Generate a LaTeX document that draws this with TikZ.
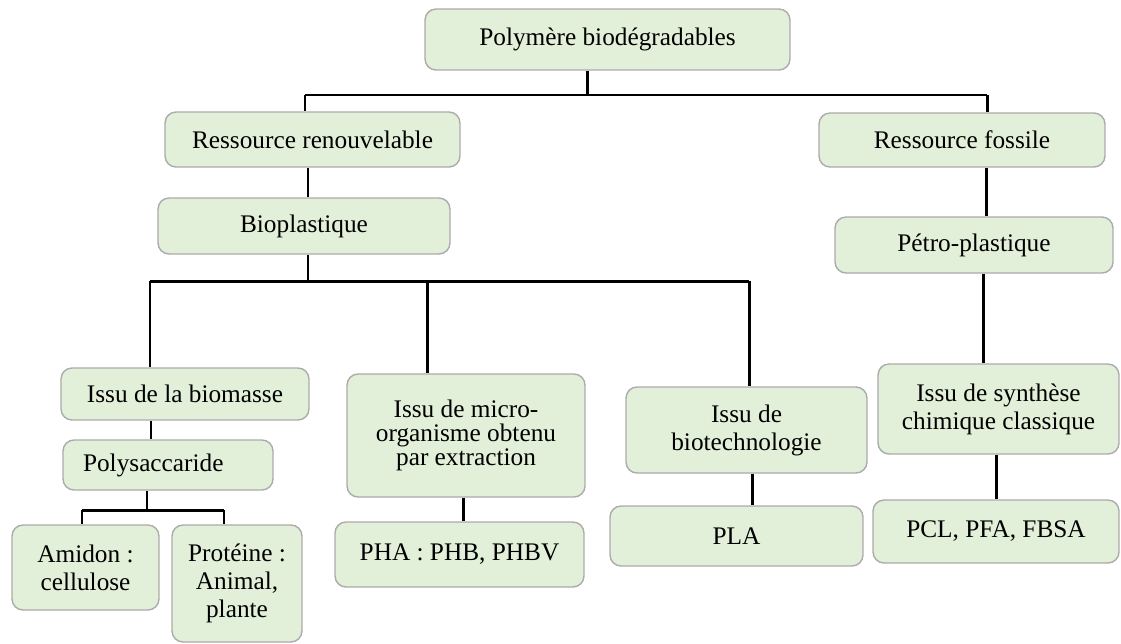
\documentclass[tikz,border=0pt]{standalone}
\usepackage{fontspec}
\setmainfont{Liberation Serif}
\definecolor{boxgreen}{HTML}{E2EFD9}
\definecolor{boxline}{HTML}{ABABAB}
\begin{document}
\begin{tikzpicture}[x=0.02cm,y=-0.02cm,line join=round,
		blk/.style={draw=boxline,line width=0.8pt,fill=boxgreen,rounded corners=0.22cm,
			align=center,inner sep=0pt,font=\fontsize{14.4}{16}\selectfont},
		wire/.style={line width=1.7pt,black}]
			\useasboundingbox (0,0) rectangle (1121,643);
			% boxes
			\node[blk,minimum width=7.30cm,minimum height=1.22cm] (poly) at (607.5,39.5) {Polymère biodégradables};
			\node[blk,minimum width=5.90cm,minimum height=1.10cm] (renouv) at (312.5,139.5) {Ressource renouvelable};
			\node[blk,minimum width=5.72cm,minimum height=1.08cm] (fossile) at (962,140) {Ressource fossile};
			\node[blk,minimum width=5.84cm,minimum height=1.12cm] (bioplast) at (304,226) {Bioplastique};
			\node[blk,minimum width=5.56cm,minimum height=1.12cm] (petro) at (974,245) {Pétro-plastique};
			\node[blk,minimum width=4.96cm,minimum height=1.04cm] (biomasse) at (185,394) {Issu de la biomasse};
			\node[blk,minimum width=4.20cm,minimum height=1.00cm,text width=3.4cm,align=left] (polysac) at (168,465) {Polysaccaride};
			\node[blk,minimum width=2.94cm,minimum height=1.70cm] (amidon) at (85.5,567.5) {Amidon :\\cellulose};
			\node[blk,minimum width=2.60cm,minimum height=2.34cm] (proteine) at (237,583.5) {Protéine :\\Animal,\\plante};
			\node[blk,minimum width=4.76cm,minimum height=2.46cm,font=\fontsize{14.4}{13.8}\selectfont] (micro) at (466,435.5) {Issu de micro-\\organisme obtenu\\par extraction};
			\node[blk,minimum width=4.98cm,minimum height=1.30cm] (pha) at (459.5,554.5) {PHA : PHB, PHBV};
			\node[blk,minimum width=4.82cm,minimum height=1.72cm] (biotech) at (746.5,430) {Issu de\\biotechnologie};
			\node[blk,minimum width=5.06cm,minimum height=1.20cm] (pla) at (736.5,536) {PLA};
			\node[blk,minimum width=4.82cm,minimum height=1.80cm] (synth) at (998.5,409) {Issu de synthèse\\chimique classique};
			\node[blk,minimum width=4.92cm,minimum height=1.26cm] (pcl) at (996,531.5) {PCL, PFA, FBSA};
			% bus joints
			\coordinate (topL) at (305,95);
			\coordinate (topR) at (987,95);
			\coordinate (topM) at (587,95);
			\coordinate (bioL) at (150,281);
			\coordinate (bioR) at (749,281);
			\coordinate (bioM) at (308,281);
			\coordinate (bioC) at (427,281);
			\coordinate (polL) at (82,510);
			\coordinate (polR) at (224,510);
			\coordinate (polM) at (147,510);
			% connectors
			\draw[wire] (topL) -- (topR);
			\draw[wire] (poly.south -| topM) -- (topM);
			\draw[wire] (topL) -- (renouv.north -| topL);
			\draw[wire] (topR) -- (fossile.north -| topR);
			\draw[wire] (renouv.south -| bioM) -- (bioplast.north -| bioM);
			\draw[wire] (fossile.south -| 986,0) -- (petro.north -| 986,0);
			\draw[wire] (bioL) -- (bioR);
			\draw[wire] (bioplast.south -| bioM) -- (bioM);
			\draw[wire] (bioL) -- (biomasse.north -| bioL);
			\draw[wire] (bioC) -- (micro.north -| bioC);
			\draw[wire] (bioR) -- (biotech.north -| bioR);
			\draw[wire] (biomasse.south -| 151,0) -- (polysac.north -| 151,0);
			\draw[wire] (polysac.south -| polM) -- (polM);
			\draw[wire] (polL) -- (polR);
			\draw[wire] (polL) -- (amidon.north -| polL);
			\draw[wire] (polR) -- (proteine.north -| polR);
			\draw[wire] (micro.south -| 463,0) -- (pha.north -| 463,0);
			\draw[wire] (biotech.south -| 752,0) -- (pla.north -| 752,0);
			\draw[wire] (petro.south -| 983,0) -- (synth.north -| 983,0);
			\draw[wire] (synth.south -| 996,0) -- (pcl.north -| 996,0);
	\end{tikzpicture}
\end{document}
